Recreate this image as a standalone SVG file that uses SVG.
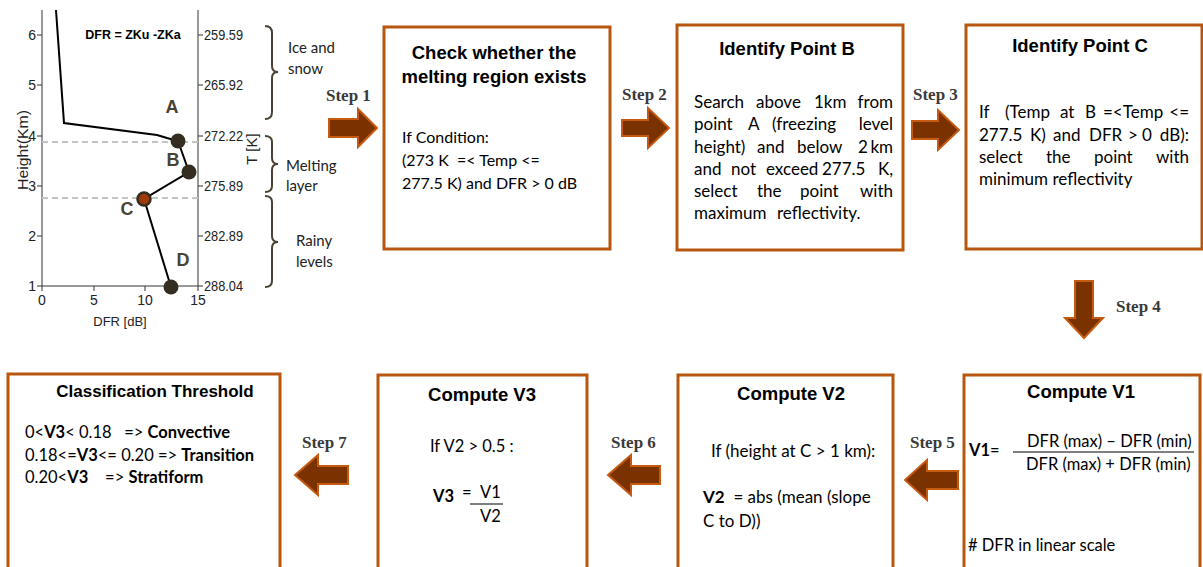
<svg xmlns="http://www.w3.org/2000/svg" width="1203" height="567" viewBox="0 0 1203 567">
<defs>
<style>
.box{fill:#fff;stroke:#b8560f;stroke-width:3}
.arr{fill:#7a3300;stroke:#c65a11;stroke-width:2;stroke-linejoin:miter}
.title{font-family:"Liberation Sans",Arial,sans-serif;font-weight:bold;font-size:18.5px;fill:#000;text-anchor:middle}
.body{font-family:Lato,"Open Sans",sans-serif;font-size:16.5px;fill:#000;white-space:pre}
.b16{font-size:16px}
.b17{font-size:17px}
.step{font-family:"Liberation Serif","Times New Roman",serif;font-weight:bold;font-size:17px;fill:#3a3a3a}
.ax{font-family:"Liberation Sans",Arial,sans-serif;font-size:14px;fill:#222}
.lbl{font-family:Lato,"Open Sans",sans-serif;font-size:15px;fill:#222}
.pt{font-family:"Liberation Sans",Arial,sans-serif;font-weight:bold;font-size:18px;fill:#4a4232;text-anchor:middle}
.brace{fill:none;stroke:#4a4232;stroke-width:2}
.dot{fill:#332d22}
.e{text-anchor:end}
</style>
</defs>

<g id="chart">
  <g stroke="#333" stroke-width="1" fill="none">
    <line x1="42" y1="10" x2="42" y2="286"/>
    <line x1="198" y1="10" x2="198" y2="286"/>
    <line x1="42" y1="286" x2="198" y2="286"/>
    <path d="M37 35H42M37 85H42M37 136H42M37 186H42M37 236H42M37 286H42"/>
    <path d="M198 35H203M198 85H203M198 136H203M198 186H203M198 236H203M198 286H203"/>
    <path d="M42 286V291M94 286V291M145 286V291M198 286V291"/>
  </g>
  <g class="ax" text-anchor="end">
    <text x="36" y="40">6</text><text x="36" y="90">5</text><text x="36" y="141">4</text>
    <text x="36" y="191">3</text><text x="36" y="241">2</text><text x="36" y="291">1</text>
  </g>
  <g class="ax">
    <text x="204" y="40" textLength="39" lengthAdjust="spacingAndGlyphs">259.59</text>
    <text x="204" y="90" textLength="39" lengthAdjust="spacingAndGlyphs">265.92</text>
    <text x="204" y="141" textLength="39" lengthAdjust="spacingAndGlyphs">272.22</text>
    <text x="204" y="191" textLength="39" lengthAdjust="spacingAndGlyphs">275.89</text>
    <text x="204" y="241" textLength="39" lengthAdjust="spacingAndGlyphs">282.89</text>
    <text x="204" y="291" textLength="39" lengthAdjust="spacingAndGlyphs">288.04</text>
  </g>
  <g class="ax" text-anchor="middle">
    <text x="42" y="305">0</text><text x="94" y="305">5</text><text x="145" y="305">10</text><text x="198" y="305">15</text>
    <text x="120" y="326" style="font-size:13px">DFR [dB]</text>
    <text transform="translate(28,150) rotate(-90)" style="font-size:14px" textLength="80" lengthAdjust="spacingAndGlyphs">Height(Km)</text>
    <text transform="translate(257,149) rotate(-90)" style="font-size:15px">T [K]</text>
  </g>
  <text x="133" y="39" text-anchor="middle" style="font-family:'Liberation Sans',Arial,sans-serif;font-weight:bold;font-size:12.5px">DFR = ZKu -ZKa</text>
  <g stroke="#c4c4c4" stroke-width="2" stroke-dasharray="6 4">
    <line x1="42" y1="142" x2="198" y2="142"/>
    <line x1="42" y1="198" x2="198" y2="198"/>
  </g>
  <polyline points="56,10 64,123 157,135 167,138 178,141 189,172 144,199 171,287" fill="none" stroke="#000" stroke-width="2"/>
  <circle class="dot" cx="178" cy="141" r="7.5"/>
  <circle class="dot" cx="189" cy="172" r="7.5"/>
  <circle cx="144" cy="199" r="6.5" fill="#9e3a08" stroke="#332d22" stroke-width="2.5"/>
  <circle class="dot" cx="171" cy="287" r="7.5"/>
  <text class="pt" x="172" y="113">A</text>
  <text class="pt" x="173" y="166">B</text>
  <text class="pt" x="127" y="215">C</text>
  <text class="pt" x="183" y="266">D</text>
</g>

<g id="layers">
  <path class="brace" d="M265 26Q272 26 272 33V66Q272 72 278 72Q272 72 272 78V112Q272 119 265 119"/>
  <path class="brace" d="M265 136Q272 136 272 142V158Q272 164 278 164Q272 164 272 170V186Q272 192 265 192"/>
  <path class="brace" d="M265 196Q272 196 272 202V236Q272 242 278 242Q272 242 272 248V281Q272 287 265 287"/>
  <g class="lbl">
    <text x="288" y="53">Ice and</text><text x="288" y="74">snow</text>
    <text x="286" y="171">Melting</text><text x="286" y="191">layer</text>
    <text x="296" y="246">Rainy</text><text x="296" y="267">levels</text>
  </g>
</g>

<g id="box1">
  <rect class="box" x="384" y="27" width="226" height="222"/>
  <text class="title" x="494" y="59">Check whether the</text>
  <text class="title" x="494" y="83">melting region exists</text>
  <text class="body b16" x="402" y="143">If Condition:</text>
  <text class="body b16" x="402" y="166">(273 K  =&lt; Temp &lt;=</text>
  <text class="body b16" x="402" y="189">277.5 K) and DFR &gt; 0 dB</text>
</g>

<g id="box2">
  <rect class="box" x="677" y="25" width="226" height="225"/>
  <text class="title" x="787" y="55">Identify Point B</text>
  <g class="body b17">
    <text x="694" y="108">Search</text><text x="756" y="108">above</text><text x="814" y="108">1km</text><text class="e" x="893" y="108">from</text>
    <text x="694" y="130">point</text><text x="748" y="130">A</text><text x="772" y="130">(freezing</text><text class="e" x="893" y="130">level</text>
    <text x="694" y="153">height)</text><text x="757" y="153">and</text><text x="797" y="153">below</text><text x="858" y="153">2</text><text class="e" x="893" y="153">km</text>
    <text x="694" y="175">and</text><text x="731" y="175">not</text><text x="766" y="175">exceed</text><text x="822" y="175">277.5</text><text class="e" x="893" y="175">K,</text>
    <text x="694" y="197">select</text><text x="757" y="197">the</text><text x="800" y="197">point</text><text class="e" x="893" y="197">with</text>
    <text x="694" y="219">maximum</text><text x="777" y="219">reflectivity.</text>
  </g>
</g>

<g id="box3">
  <rect class="box" x="966" y="25" width="236" height="224"/>
  <text class="title" x="1080" y="52">Identify Point C</text>
  <g class="body b17">
    <text x="979" y="118">If</text><text x="1005" y="118">(Temp</text><text x="1060" y="118">at</text><text x="1085" y="118">B</text><text x="1103" y="118">=&lt;Temp</text><text class="e" x="1189" y="118">&lt;=</text>
    <text x="979" y="141">277.5</text><text x="1030" y="141">K)</text><text x="1053" y="141">and</text><text x="1089" y="141">DFR</text><text x="1128" y="141">&gt;</text><text x="1142" y="141">0</text><text class="e" x="1189" y="141">dB):</text>
    <text x="979" y="163">select</text><text x="1046" y="163">the</text><text x="1094" y="163">point</text><text class="e" x="1189" y="163">with</text>
    <text x="979" y="185">minimum reflectivity</text>
  </g>
</g>

<g id="box4">
  <path class="box" d="M964 570V375H1200V570"/>
  <text class="title" x="1081" y="398">Compute V1</text>
  <text class="body" x="969" y="456" font-weight="bold">V1</text>
  <text class="body" x="990" y="456">=</text>
  <text class="body" x="1027" y="447">DFR (max) – DFR (min)</text>
  <line x1="1013" y1="452" x2="1194" y2="452" stroke="#000" stroke-width="1"/>
  <text class="body" x="1026" y="470">DFR (max) + DFR (min)</text>
  <text class="body" x="968" y="551"># DFR in linear scale</text>
</g>

<g id="box5">
  <path class="box" d="M678 570V375H893V570"/>
  <text class="title" x="791" y="400">Compute V2</text>
  <text class="body b17" x="711" y="457">If (height at C &gt; 1 km):</text>
  <text class="body b17" x="703" y="503"><tspan font-weight="bold">V2</tspan>  = abs (mean (slope</text>
  <text class="body b17" x="703" y="527">C to D))</text>
</g>

<g id="box6">
  <path class="box" d="M378 570V375H587V570"/>
  <text class="title" x="482" y="401">Compute V3</text>
  <text class="body" x="430" y="452">If V2 &gt; 0.5 :</text>
  <text class="body" x="433" y="502" font-weight="bold">V3</text>
  <text class="body" x="462" y="498">=</text>
  <text class="body" x="480" y="498">V1</text>
  <line x1="470" y1="504" x2="503" y2="504" stroke="#000" stroke-width="1"/>
  <text class="body" x="480" y="522">V2</text>
</g>

<g id="box7">
  <path class="box" d="M8 570V374H280V570"/>
  <text class="title" x="155" y="397" style="font-size:17px">Classification Threshold</text>
  <text class="body" x="25" y="438">0&lt;<tspan font-weight="bold">V3</tspan>&lt; 0.18   =&gt; <tspan font-weight="bold">Convective</tspan></text>
  <text class="body" x="25" y="461">0.18&lt;=<tspan font-weight="bold">V3</tspan>&lt;= 0.20 =&gt; <tspan font-weight="bold">Transition</tspan></text>
  <text class="body" x="25" y="483">0.20&lt;<tspan font-weight="bold">V3</tspan>    =&gt; <tspan font-weight="bold">Stratiform</tspan></text>
</g>

<g id="connectors">
  <path class="arr" d="M329 119H358V109L377 128L358 147V137H329Z"/>
  <text class="step" x="326" y="101">Step 1</text>
  <path class="arr" d="M622 120H648V108L669 128L648 148V136H622Z"/>
  <text class="step" x="622" y="100">Step 2</text>
  <path class="arr" d="M912 121H938V110L959 130L938 150V139H912Z"/>
  <text class="step" x="913" y="100">Step 3</text>
  <path class="arr" d="M1075 281H1093V318H1103L1084 338L1065 318H1075Z"/>
  <text class="step" x="1116" y="312">Step 4</text>
  <path class="arr" d="M958 471H927V460L905 480L927 500V489H958Z"/>
  <text class="step" x="910" y="448">Step 5</text>
  <path class="arr" d="M660 466H631V455L608 475L631 495V484H660Z"/>
  <text class="step" x="611" y="448">Step 6</text>
  <path class="arr" d="M348 466H318V455L295 475L318 495V484H348Z"/>
  <text class="step" x="302" y="448">Step 7</text>
</g>
</svg>
